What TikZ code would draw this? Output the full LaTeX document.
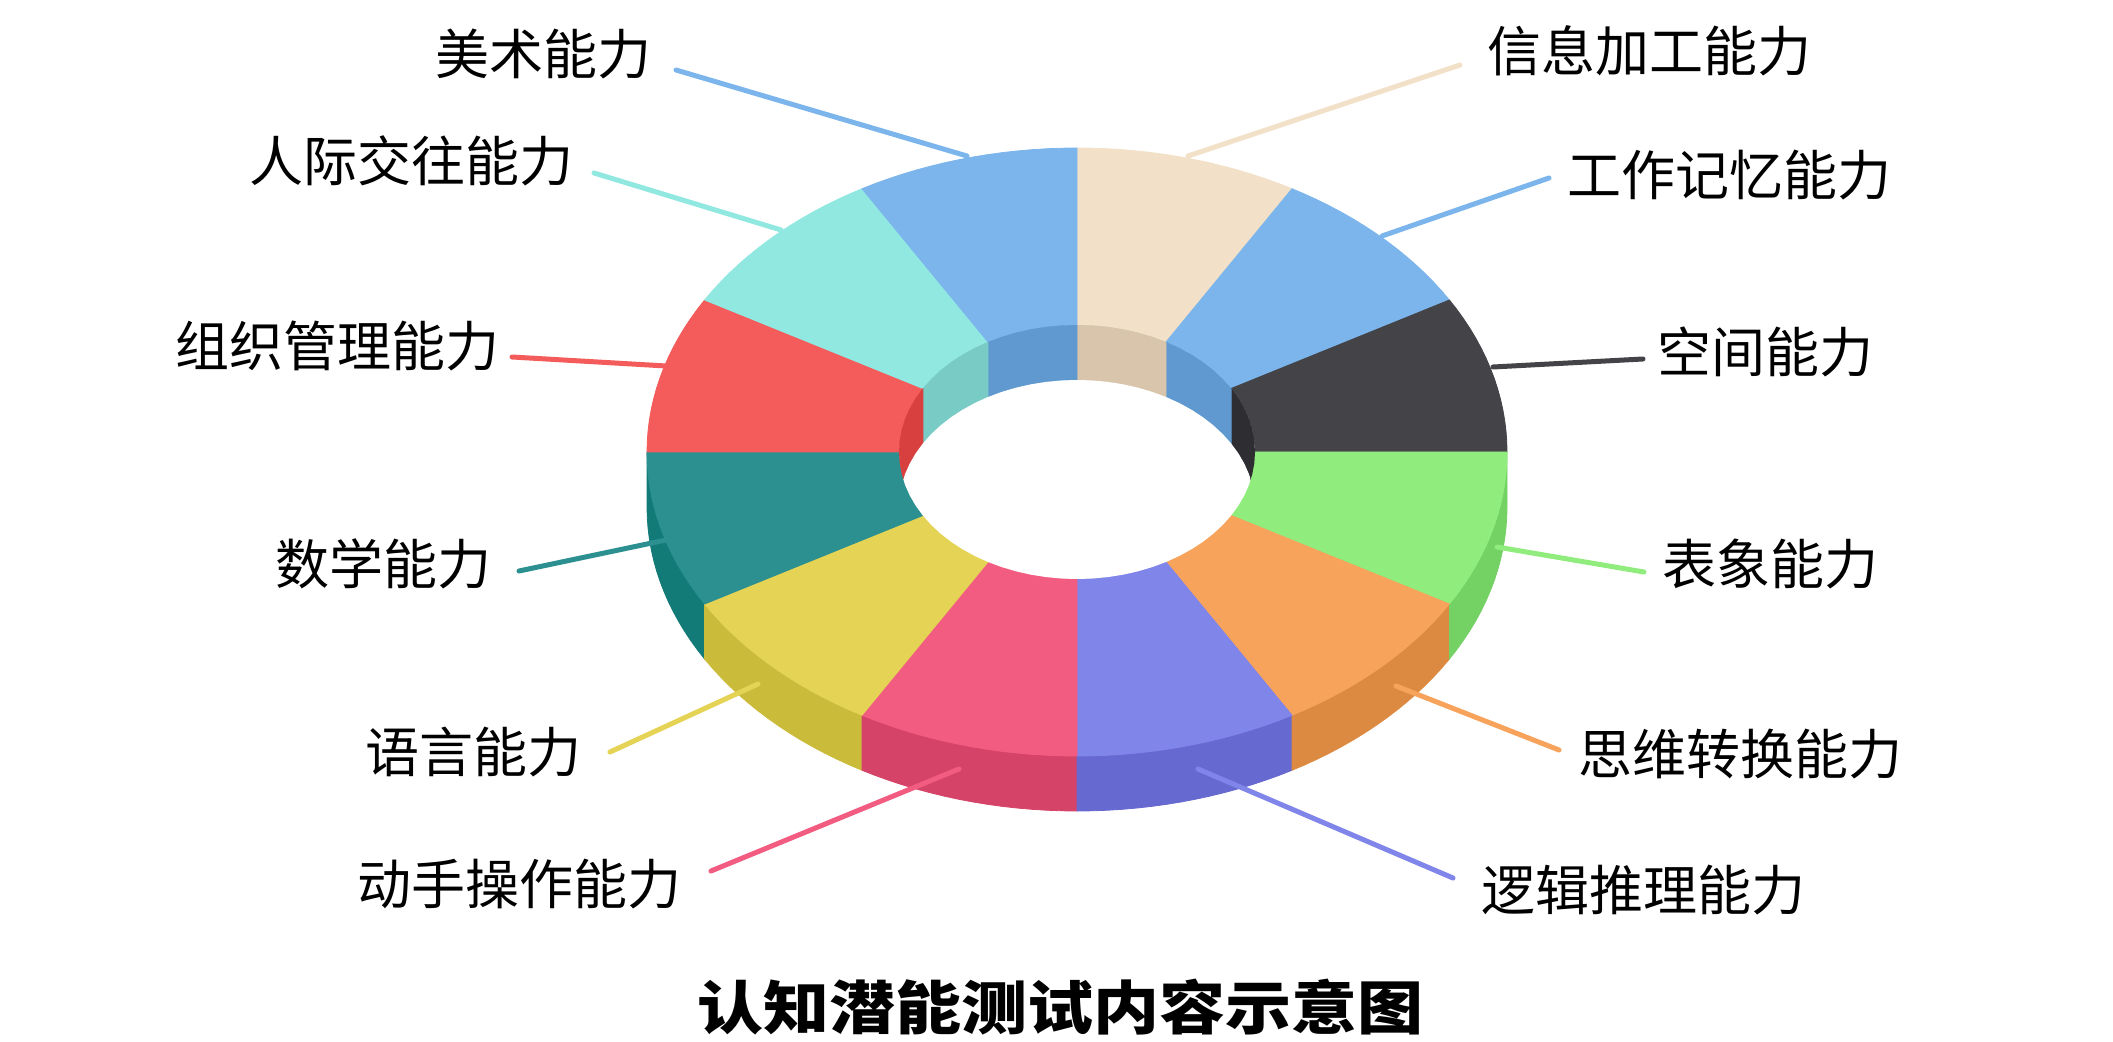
\documentclass[tikz,border=0pt]{standalone}
\usepackage{fontspec}
\usepackage{graphicx}
\newfontfamily\cjk{Noto Sans CJK SC}
\definecolor{cBeige}{HTML}{F2E1C8}\definecolor{wBeige}{HTML}{D8C5AB}
\definecolor{cBlue}{HTML}{7CB5EC}\definecolor{wBlue}{HTML}{5F99D0}
\definecolor{cCyan}{HTML}{91E8E1}\definecolor{wCyan}{HTML}{78CCC5}
\definecolor{cRed}{HTML}{F45B5B}\definecolor{wRed}{HTML}{D84040}
\definecolor{cDark}{HTML}{434348}\definecolor{wDark}{HTML}{2D2D32}
\definecolor{cGreen}{HTML}{90ED7D}\definecolor{wGreen}{HTML}{74D163}
\definecolor{cOrange}{HTML}{F7A35C}\definecolor{wOrange}{HTML}{DC8A42}
\definecolor{cPurple}{HTML}{8085E9}\definecolor{wPurple}{HTML}{6669CF}
\definecolor{cPink}{HTML}{F15C80}\definecolor{wPink}{HTML}{D54468}
\definecolor{cYellow}{HTML}{E4D354}\definecolor{wYellow}{HTML}{CBBB3A}
\definecolor{cTeal}{HTML}{2B908F}\definecolor{wTeal}{HTML}{127A77}
\tikzset{
  lbl/.style={font=\cjk\fontsize{27pt}{30pt}\selectfont, inner sep=0pt, text=black},
  ttl/.style={font=\cjk\bfseries\fontsize{33pt}{36pt}\selectfont, inner sep=0pt, text=black},
  lead/.style={line width=2.5pt, line cap=round},
}
\begin{document}
\begin{tikzpicture}[x=0.5pt,y=-0.5pt]
\useasboundingbox (0,0) rectangle (2113,1042);
\def\cx{1077}\def\cy{452}\def\RO{430}\def\RyO{304}\def\RI{178}\def\RyI{127}\def\dep{55}
% outer side walls (front half)
\foreach \angA/\angB/\colS in {180/210/wTeal,210/240/wYellow,240/270/wPink,270/300/wPurple,300/330/wOrange,330/360/wGreen}{
  \fill[\colS, draw=\colS, line width=0.4pt] plot[domain=\angA:\angB,samples=16] ({\cx+\RO*cos(\x)},{\cy-\RyO*sin(\x)})
    -- plot[domain=\angB:\angA,samples=16] ({\cx+\RO*cos(\x)},{\cy+\dep-\RyO*sin(\x)}) -- cycle;
}
% top faces
\foreach \angA/\angB/\colT in {90/60/cBeige,60/30/cBlue,30/0/cDark,0/-30/cGreen,-30/-60/cOrange,-60/-90/cPurple,-90/-120/cPink,-120/-150/cYellow,-150/-180/cTeal,180/150/cRed,150/120/cCyan,120/90/cBlue}{
  \fill[\colT, draw=\colT, line width=0.4pt] plot[domain=\angA:\angB,samples=16] ({\cx+\RO*cos(\x)},{\cy-\RyO*sin(\x)})
    -- plot[domain=\angB:\angA,samples=16] ({\cx+\RI*cos(\x)},{\cy-\RyI*sin(\x)}) -- cycle;
}
% inner walls and hole
\begin{scope}
  \clip plot[domain=0:360,samples=73] ({\cx+\RI*cos(\x)},{\cy-\RyI*sin(\x)}) -- cycle;
  \foreach \angA/\angB/\colS in {0/30/wDark,30/60/wBlue,60/90/wBeige,90/120/wBlue,120/150/wCyan,150/180/wRed}{
    \fill[\colS, draw=\colS, line width=0.4pt] plot[domain=\angA:\angB,samples=16] ({\cx+\RI*cos(\x)},{\cy-\RyI*sin(\x)})
      -- plot[domain=\angB:\angA,samples=16] ({\cx+\RI*cos(\x)},{\cy+\dep-\RyI*sin(\x)}) -- cycle;
  }
  \fill[white] plot[domain=0:360,samples=73] ({\cx+\RI*cos(\x)},{\cy+\dep-\RyI*sin(\x)}) -- cycle;
\end{scope}
% labels
\node[lbl] (meishu) at (543,54) {美术能力};
\node[lbl] (renji) at (411,161) {人际交往能力};
\node[lbl] (zuzhi) at (337,346) {组织管理能力};
\node[lbl] (shuxue) at (383,564) {数学能力};
\node[lbl] (yuyan) at (473,752) {语言能力};
\node[lbl] (dongshou) at (519,884) {动手操作能力};
\node[lbl] (xinxi) at (1649,51) {信息加工能力};
\node[lbl] (gongzuo) at (1729,175) {工作记忆能力};
\node[lbl] (kongjian) at (1765,352) {空间能力};
\node[lbl] (biaoxiang) at (1770,564) {表象能力};
\node[lbl] (siwei) at (1740,754) {思维转换能力};
\node[lbl] (luoji) at (1643,890) {逻辑推理能力};
\node[ttl] (title) at (1060,1007) {\scalebox{1}[0.88]{认知潜能测试内容示意图}};
% leader line end points
\coordinate (m1) at (676,70);   \coordinate (m2) at (967,156);
\coordinate (r1) at (594,173);  \coordinate (r2) at (781,230);
\coordinate (z1) at (512,357);  \coordinate (z2) at (666,366);
\coordinate (s1) at (519,571);  \coordinate (s2) at (666,540);
\coordinate (y1) at (610,752);  \coordinate (y2) at (758,684);
\coordinate (d1) at (711,871);  \coordinate (d2) at (959,769);
\coordinate (x1) at (1460,65);  \coordinate (x2) at (1188,156);
\coordinate (g1) at (1549,178); \coordinate (g2) at (1382,236);
\coordinate (k1) at (1643,359); \coordinate (k2) at (1493,367);
\coordinate (b1) at (1644,572); \coordinate (b2) at (1497,547);
\coordinate (w1) at (1559,750); \coordinate (w2) at (1396,686);
\coordinate (l1) at (1453,878); \coordinate (l2) at (1198,769);
\draw[lead, cBlue] (m1) -- (m2);
\draw[lead, cCyan] (r1) -- (r2);
\draw[lead, cRed] (z1) -- (z2);
\draw[lead, cTeal] (s1) -- (s2);
\draw[lead, cYellow] (y1) -- (y2);
\draw[lead, cPink] (d1) -- (d2);
\draw[lead, cBeige] (x1) -- (x2);
\draw[lead, cBlue] (g1) -- (g2);
\draw[lead, cDark] (k1) -- (k2);
\draw[lead, cGreen] (b1) -- (b2);
\draw[lead, cOrange] (w1) -- (w2);
\draw[lead, cPurple] (l1) -- (l2);
\end{tikzpicture}
\end{document}
